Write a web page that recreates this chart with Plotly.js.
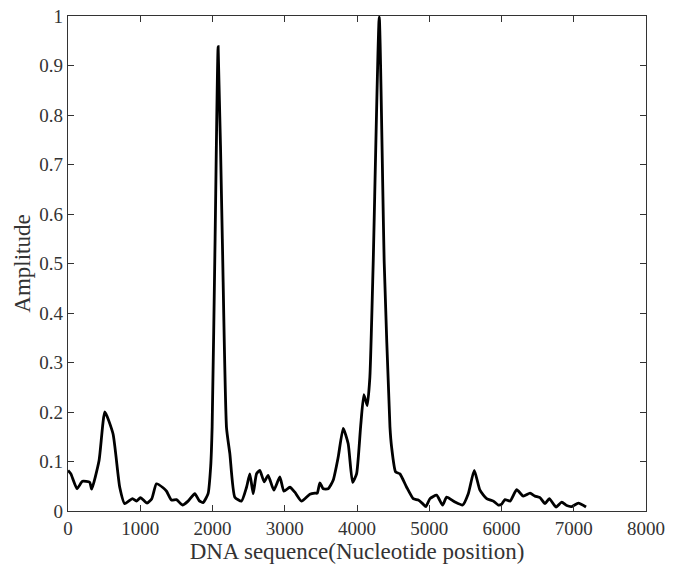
<!DOCTYPE html>
<html>
<head>
<meta charset="utf-8">
<script src="https://cdn.plot.ly/plotly-3.0.1.min.js"></script>
<style>html,body{margin:0;padding:0;background:#fff;}#chart{width:679px;height:574px;}</style>
</head>
<body>
<div id="chart"></div>
<script>
// Nucleotide positions
const position = [0, 40, 125, 200, 300, 328, 430, 510, 623, 716, 785, 892, 947, 1003, 1094, 1160, 1224, 1316, 1363, 1432, 1501, 1584, 1662, 1755, 1815, 1870, 1939, 1975, 1995, 2036, 2078, 2136, 2194, 2240, 2309, 2401, 2471, 2517, 2563, 2609, 2655, 2715, 2770, 2849, 2932, 2988, 3071, 3140, 3232, 3348, 3417, 3450, 3486, 3532, 3601, 3670, 3740, 3809, 3878, 3939, 3994, 4050, 4095, 4141, 4178, 4224, 4308, 4377, 4456, 4479, 4534, 4594, 4687, 4778, 4848, 4908, 4954, 5010, 5102, 5185, 5240, 5356, 5462, 5540, 5623, 5702, 5795, 5887, 5956, 6003, 6048, 6118, 6210, 6302, 6395, 6464, 6533, 6603, 6662, 6755, 6834, 6903, 6972, 7064, 7170];
// Normalised amplitude
const amplitude = [0.082, 0.075, 0.045, 0.06, 0.058, 0.044, 0.102, 0.2, 0.156, 0.048, 0.015, 0.025, 0.02, 0.027, 0.016, 0.025, 0.055, 0.047, 0.04, 0.022, 0.023, 0.012, 0.02, 0.035, 0.021, 0.017, 0.035, 0.09, 0.17, 0.55, 0.938, 0.55, 0.168, 0.116, 0.028, 0.02, 0.048, 0.075, 0.035, 0.075, 0.082, 0.059, 0.072, 0.042, 0.069, 0.04, 0.048, 0.038, 0.02, 0.034, 0.036, 0.036, 0.057, 0.045, 0.045, 0.062, 0.109, 0.167, 0.136, 0.058, 0.075, 0.17, 0.235, 0.213, 0.27, 0.5, 0.998, 0.5, 0.17, 0.129, 0.079, 0.075, 0.048, 0.025, 0.022, 0.015, 0.009, 0.025, 0.032, 0.012, 0.028, 0.018, 0.012, 0.035, 0.082, 0.042, 0.025, 0.02, 0.012, 0.014, 0.023, 0.02, 0.043, 0.03, 0.036, 0.03, 0.027, 0.015, 0.025, 0.008, 0.018, 0.011, 0.009, 0.016, 0.008];

const xTicks = [0, 1000, 2000, 3000, 4000, 5000, 6000, 7000, 8000];
const yTicks = [0, 0.1, 0.2, 0.3, 0.4, 0.5, 0.6, 0.7, 0.8, 0.9, 1];

const serif = "'Liberation Serif', 'DejaVu Serif', serif";

const trace = {
  x: position,
  y: amplitude,
  type: 'scatter',
  mode: 'lines',
  line: {color: '#000', width: 2.8, shape: 'spline', smoothing: 0.5},
  hoverinfo: 'x+y'
};

const axisCommon = {
  showgrid: false,
  zeroline: false,
  showline: true,
  linecolor: '#333',
  linewidth: 1.2,
  mirror: 'ticks',
  ticks: 'inside',
  ticklen: 6,
  tickwidth: 1,
  tickcolor: '#333',
  tickfont: {family: serif, size: 19, color: '#333'}
};

const layout = {
  width: 679,
  height: 574,
  margin: {l: 68, r: 33, t: 16, b: 63},
  paper_bgcolor: '#fff',
  plot_bgcolor: '#fff',
  showlegend: false,
  font: {family: serif},
  xaxis: Object.assign({}, axisCommon, {
    range: [0, 8000],
    tickvals: xTicks,
    ticktext: xTicks.map(String),
    title: {text: 'DNA sequence(Nucleotide position)', font: {family: serif, size: 23, color: '#333'}, standoff: 2}
  }),
  yaxis: Object.assign({}, axisCommon, {
    range: [0, 1],
    tickvals: yTicks,
    ticktext: yTicks.map(String),
    title: {text: 'Amplitude', font: {family: serif, size: 23, color: '#333'}, standoff: 2}
  })
};

Plotly.newPlot('chart', [trace], layout, {displayModeBar: false, staticPlot: true});
</script>
</body>
</html>
